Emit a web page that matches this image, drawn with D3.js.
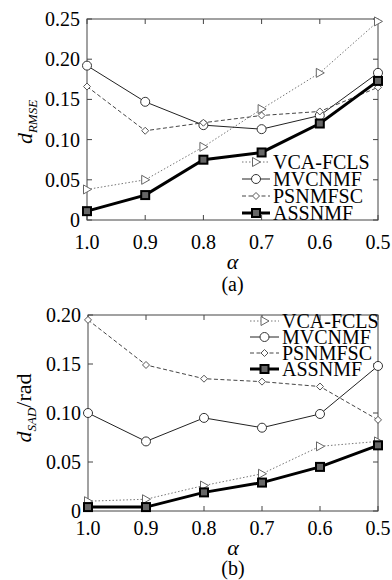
<!DOCTYPE html>
<html>
<head>
<meta charset="utf-8">
<script src="https://cdn.jsdelivr.net/npm/d3@7"></script>
<style>
  html, body { margin: 0; padding: 0; background: #fff; }
  svg { display: block; }
  text { font-family: "Liberation Serif", "DejaVu Serif", "Times New Roman", serif; }
</style>
</head>
<body>
<div id="chart"></div>
<script>
// x categories (alpha), shared by both panels
const alphas = [1.0, 0.9, 0.8, 0.7, 0.6, 0.5];
const methods = ["VCA-FCLS", "MVCNMF", "PSNMFSC", "ASSNMF"];

// (a) d_RMSE
const rmseVCA = [0.038, 0.050, 0.091, 0.138, 0.183, 0.247];
const rmseMVC = [0.192, 0.147, 0.118, 0.113, 0.130, 0.183];
const rmsePSN = [0.166, 0.111, 0.121, 0.130, 0.135, 0.165];
const rmseASS = [0.011, 0.031, 0.075, 0.084, 0.120, 0.173];
const rmseTicks = [0, 0.05, 0.10, 0.15, 0.20, 0.25];

// (b) d_SAD / rad
const sadVCA = [0.010, 0.012, 0.026, 0.038, 0.066, 0.071];
const sadMVC = [0.100, 0.071, 0.095, 0.085, 0.099, 0.148];
const sadPSN = [0.195, 0.149, 0.135, 0.132, 0.127, 0.093];
const sadASS = [0.004, 0.004, 0.019, 0.029, 0.045, 0.067];
const sadTicks = [0, 0.05, 0.10, 0.15, 0.20];

const W = 392, H = 580;
const FONT = "'Liberation Serif', 'DejaVu Serif', serif";

const svg = d3.select("#chart")
  .append("svg")
  .attr("width", W)
  .attr("height", H)
  .attr("font-family", FONT);

// line / marker styles per method
const styles = {
  "VCA-FCLS": { stroke: "#777", width: 1, dash: "1.5,2", marker: "tri" },
  "MVCNMF":   { stroke: "#222", width: 1, dash: null, marker: "circle" },
  "PSNMFSC":  { stroke: "#444", width: 1, dash: "4,2.5", marker: "diamond" },
  "ASSNMF":   { stroke: "#000", width: 3, dash: null, marker: "square" }
};

function drawMarker(g, type, x, y) {
  if (type === "tri") {
    g.append("path")
      .attr("d", `M${x - 3.5},${y - 4.5}L${x + 4.5},${y}L${x - 3.5},${y + 4.5}Z`)
      .attr("fill", "#fff").attr("stroke", "#666").attr("stroke-width", 1);
  } else if (type === "circle") {
    g.append("circle").attr("cx", x).attr("cy", y).attr("r", 4.5)
      .attr("fill", "#fff").attr("stroke", "#333").attr("stroke-width", 1);
  } else if (type === "diamond") {
    g.append("path")
      .attr("d", `M${x},${y - 3.5}L${x + 3.5},${y}L${x},${y + 3.5}L${x - 3.5},${y}Z`)
      .attr("fill", "#fff").attr("stroke", "#555").attr("stroke-width", 1);
  } else {
    g.append("rect").attr("x", x - 4).attr("y", y - 4).attr("width", 8).attr("height", 8)
      .attr("fill", "#666").attr("stroke", "#000").attr("stroke-width", 2);
  }
}

function drawPanel(cfg) {
  const x = d3.scaleLinear().domain([1.0, 0.5]).range([cfg.left, cfg.right]);
  const y = d3.scaleLinear().domain([0, cfg.ymax]).range([cfg.bottom, cfg.top]);
  const g = svg.append("g");

  // frame
  g.append("rect")
    .attr("x", cfg.left).attr("y", cfg.top)
    .attr("width", cfg.right - cfg.left).attr("height", cfg.bottom - cfg.top)
    .attr("fill", "none").attr("stroke", "#444").attr("stroke-width", 1);

  // ticks, inward on all four sides
  const tickLen = 5;
  alphas.forEach(a => {
    g.append("line").attr("x1", x(a)).attr("x2", x(a))
      .attr("y1", cfg.bottom).attr("y2", cfg.bottom - tickLen).attr("stroke", "#444");
    g.append("line").attr("x1", x(a)).attr("x2", x(a))
      .attr("y1", cfg.top).attr("y2", cfg.top + tickLen).attr("stroke", "#444");
    g.append("text")
      .attr("x", x(a)).attr("y", cfg.bottom + cfg.xLabelOff)
      .attr("text-anchor", "middle").attr("font-size", 20)
      .text(a.toFixed(1));
  });
  cfg.ticks.forEach(t => {
    g.append("line").attr("x1", cfg.left).attr("x2", cfg.left + tickLen)
      .attr("y1", y(t)).attr("y2", y(t)).attr("stroke", "#444");
    g.append("line").attr("x1", cfg.right).attr("x2", cfg.right - tickLen)
      .attr("y1", y(t)).attr("y2", y(t)).attr("stroke", "#444");
    g.append("text")
      .attr("x", cfg.left - 7).attr("y", y(t) + 7)
      .attr("text-anchor", "end").attr("font-size", 20)
      .text(t === 0 ? "0" : t.toFixed(2));
  });

  // series
  const line = d3.line().x((d, i) => x(alphas[i])).y(d => y(d));
  methods.forEach((m, k) => {
    const s = styles[m];
    g.append("path")
      .datum(cfg.series[k])
      .attr("d", line)
      .attr("fill", "none")
      .attr("stroke", s.stroke)
      .attr("stroke-width", s.width)
      .attr("stroke-dasharray", s.dash);
    cfg.series[k].forEach((v, i) => drawMarker(g, s.marker, x(alphas[i]), y(v)));
  });

  // legend
  methods.forEach((m, k) => {
    const s = styles[m];
    const ly = cfg.legY + k * cfg.legStep;
    g.append("line")
      .attr("x1", cfg.legX).attr("x2", cfg.legX + cfg.legLen)
      .attr("y1", ly).attr("y2", ly)
      .attr("stroke", s.stroke).attr("stroke-width", s.width)
      .attr("stroke-dasharray", s.dash);
    drawMarker(g, s.marker, cfg.legX + cfg.legLen / 2, ly);
    g.append("text")
      .attr("x", cfg.legX + cfg.legLen + 3).attr("y", ly + 7)
      .attr("text-anchor", "start").attr("font-size", 20)
      .text(m);
  });

  // x title
  const cx = (cfg.left + cfg.right) / 2;
  g.append("text")
    .attr("x", cx).attr("y", cfg.alphaY)
    .attr("text-anchor", "middle").attr("font-size", 22).attr("font-style", "italic")
    .text("α");
  g.append("text")
    .attr("x", cx).attr("y", cfg.capY)
    .attr("text-anchor", "middle").attr("font-size", 20)
    .text(cfg.caption);

  // y title
  const yt = g.append("text")
    .attr("transform", `translate(${cfg.yTitleX},${cfg.yTitleY}) rotate(-90)`)
    .attr("text-anchor", "middle").attr("font-size", 22);
  yt.append("tspan").attr("font-style", "italic").text("d");
  yt.append("tspan").attr("font-style", "italic").attr("font-size", 13)
    .attr("dy", 5).text(cfg.sub);
  if (cfg.unit) yt.append("tspan").attr("dy", -5).text(cfg.unit);
}

drawPanel({
  left: 87, right: 378, top: 19, bottom: 220, ymax: 0.25, ticks: rmseTicks,
  series: [rmseVCA, rmseMVC, rmsePSN, rmseASS],
  xLabelOff: 29, alphaY: 269, capY: 291, caption: "(a)",
  legX: 242, legLen: 28, legY: 162, legStep: 17,
  yTitleX: 32, yTitleY: 122, sub: "RMSE", unit: null
});

drawPanel({
  left: 88, right: 378, top: 315, bottom: 511, ymax: 0.20, ticks: sadTicks,
  series: [sadVCA, sadMVC, sadPSN, sadASS],
  xLabelOff: 24, alphaY: 555, capY: 575, caption: "(b)",
  legX: 250, legLen: 29, legY: 321, legStep: 16,
  yTitleX: 31, yTitleY: 408, sub: "SAD", unit: "/rad"
});
</script>
</body>
</html>
